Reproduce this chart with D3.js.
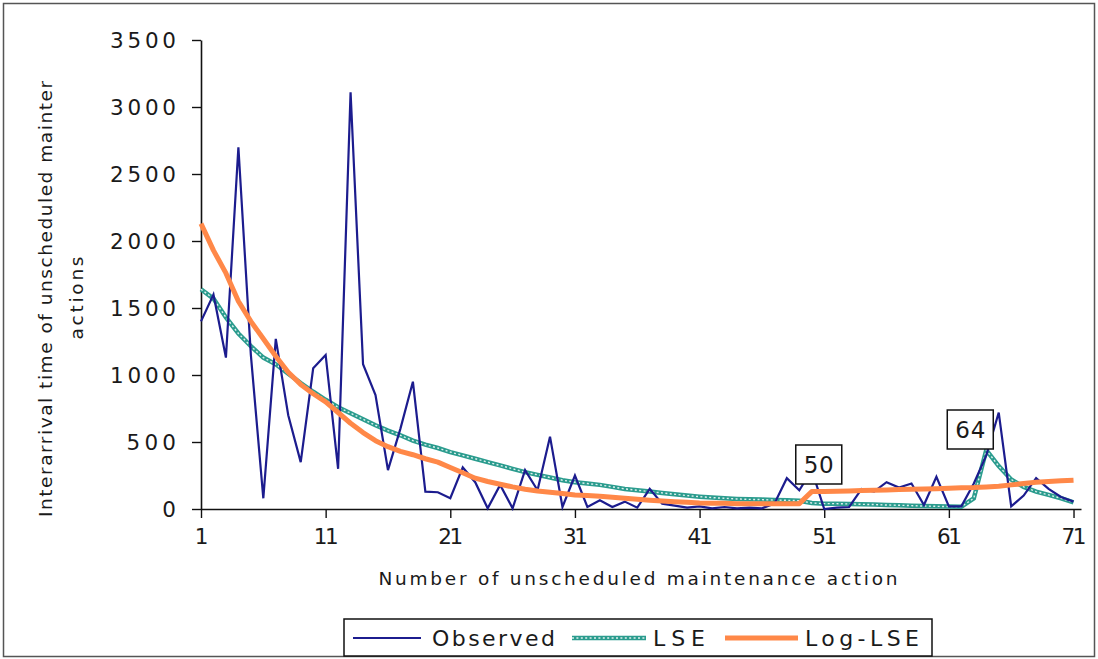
<!DOCTYPE html>
<html>
<head>
<meta charset="utf-8">
<script src="https://cdnjs.cloudflare.com/ajax/libs/d3/7.8.5/d3.min.js"></script>
<style>
body{margin:0;background:#fff;}
svg text{font-family:"DejaVu Sans",Arial,sans-serif;fill:#1a1a1a;}
</style>
</head>
<body>
<div id="chart"></div>
<script>
// action number 1..71
var actions = d3.range(1, 72);
var observed = [1400,1600,1130,2700,1150,80,1270,700,350,1050,
	1150,300,3110,1080,850,290,600,950,130,125,
	80,310,200,5,180,5,290,140,540,15,
	250,15,65,15,55,10,150,40,25,10,
	20,5,15,5,10,5,40,230,140,290,
	0,10,15,150,130,200,160,190,30,240,
	20,20,190,400,720,20,100,230,150,90,55];
var lse = [1640,1570,1430,1310,1215,1130,1080,1010,940,875,
	815,760,715,670,625,585,550,510,480,455,
	425,400,375,350,325,300,275,255,235,215,
	200,190,180,165,150,140,130,120,110,100,
	92,85,80,75,72,70,67,65,62,45,
	40,40,38,35,33,30,28,25,22,20,
	18,17,80,440,320,220,165,130,105,80,50];
var logLse = [2130,1930,1760,1550,1400,1270,1140,1020,930,860,
	800,720,640,570,510,465,430,405,375,350,
	310,270,230,205,185,165,148,135,125,115,
	105,100,95,88,80,72,65,60,55,50,
	45,43,42,40,40,40,40,40,40,130,
	130,132,135,138,140,142,145,148,150,152,
	155,158,160,165,170,180,190,200,205,210,215];
var yTicks = [0,500,1000,1500,2000,2500,3000,3500];
var xTicks = [1,11,21,31,41,51,61,71];
var seriesNames = ["Observed","LSE","Log-LSE"];
var marked = [50,64];

var W = 1098, H = 659;
var navy = "#1c1c8e", teal = "#2b9c8e", orange = "#ff8848";

var svg = d3.select("#chart").append("svg")
	.attr("width", W).attr("height", H);

// outer frame
svg.append("rect")
	.attr("x", 3.5).attr("y", 3.5)
	.attr("width", 1091).attr("height", 653)
	.attr("fill", "#fff").attr("stroke", "#555").attr("stroke-width", 1.5);

var x = d3.scaleLinear().domain([1, 71.6]).range([201, 1081]);
var y = d3.scaleLinear().domain([0, 3500]).range([509, 40]);

// y axis
var gy = svg.append("g").attr("transform", "translate(201,0)")
	.call(d3.axisLeft(y).tickValues(yTicks).tickSize(9).tickSizeOuter(0).tickPadding(0).tickFormat(d3.format("d")));
gy.select(".domain").attr("stroke", "#111").attr("stroke-width", 1.6);
gy.selectAll(".tick line").attr("stroke", "#111").attr("stroke-width", 1.4);
gy.selectAll(".tick text")
	.attr("x", -25).attr("dy", "0.36em")
	.attr("font-size", 21.5)
	.attr("textLength", function(d){ return String(d).length * 16.5; })
	.attr("lengthAdjust", "spacing")
	.style("font-family", "DejaVu Sans");

// x axis
var gx = svg.append("g").attr("transform", "translate(0,509)")
	.call(d3.axisBottom(x).tickValues(xTicks).tickSize(9).tickSizeOuter(0).tickFormat(d3.format("d")));
gx.select(".domain").attr("stroke", "#111").attr("stroke-width", 1.6);
gx.selectAll(".tick line").attr("stroke", "#111").attr("stroke-width", 1.4);
gx.selectAll(".tick text")
	.attr("y", 27).attr("dy", "0.36em")
	.attr("font-size", 21.5)
	.attr("textLength", function(d){ return String(d).length == 1 ? 11 : 25; })
	.attr("lengthAdjust", "spacing")
	.style("font-family", "DejaVu Sans");

// axis titles
svg.append("text")
	.attr("x", 638).attr("y", 585)
	.attr("text-anchor", "middle")
	.attr("font-size", 18.5)
	.attr("textLength", 519).attr("lengthAdjust", "spacing")
	.text("Number of unscheduled maintenance action");
svg.append("text")
	.attr("transform", "translate(52,299) rotate(-90)")
	.attr("text-anchor", "middle")
	.attr("font-size", 18.5)
	.attr("textLength", 436).attr("lengthAdjust", "spacing")
	.text("Interarrival time of unscheduled mainter");
svg.append("text")
	.attr("transform", "translate(83,298) rotate(-90)")
	.attr("text-anchor", "middle")
	.attr("font-size", 18.5)
	.attr("textLength", 83).attr("lengthAdjust", "spacing")
	.text("actions");

function lineOf(arr){
	return d3.line()
		.x(function(d, i){ return x(actions[i]); })
		.y(function(d){ return y(d); })(arr);
}

// LSE - teal chain line
svg.append("path").attr("d", lineOf(lse))
	.attr("fill", "none").attr("stroke", teal).attr("stroke-width", 4.5);
svg.append("path").attr("d", lineOf(lse))
	.attr("fill", "none").attr("stroke", "#fff").attr("stroke-width", 1.4)
	.attr("stroke-dasharray", "2 2.4").attr("opacity", 0.85);

// observed
svg.append("path").attr("d", lineOf(observed))
	.attr("fill", "none").attr("stroke", navy).attr("stroke-width", 2.2)
	.attr("stroke-linejoin", "miter");

// Log-LSE
svg.append("path").attr("d", lineOf(logLse))
	.attr("fill", "none").attr("stroke", orange).attr("stroke-width", 5)
	.attr("stroke-linejoin", "round");

// marked points
var boxOff = {50: {dx: 7, top: 445}, 64: {dx: -16, top: 410}};
marked.forEach(function(m){
	var cx = x(m) + boxOff[m].dx, top = boxOff[m].top;
	svg.append("rect")
		.attr("x", cx - 23).attr("y", top)
		.attr("width", 46).attr("height", 39)
		.attr("fill", "#fff").attr("stroke", "#111").attr("stroke-width", 1.5);
	svg.append("text")
		.attr("x", cx).attr("y", top + 20).attr("dy", "0.36em")
		.attr("text-anchor", "middle")
		.attr("font-size", 23)
		.attr("textLength", 30).attr("lengthAdjust", "spacing")
		.text(m);
});

// legend
svg.append("rect")
	.attr("x", 344).attr("y", 619)
	.attr("width", 588).attr("height", 37)
	.attr("fill", "#fff").attr("stroke", "#111").attr("stroke-width", 1.5);
var leg = [
	{x1: 353, x2: 421, tx: 432, tw: 123},
	{x1: 572, x2: 646, tx: 653, tw: 52},
	{x1: 725, x2: 798, tx: 805, tw: 114}
];
seriesNames.forEach(function(name, i){
	var l = leg[i];
	if(i == 0){
		svg.append("line").attr("x1", l.x1).attr("x2", l.x2).attr("y1", 638).attr("y2", 638)
			.attr("stroke", navy).attr("stroke-width", 2);
	}else if(i == 1){
		svg.append("line").attr("x1", l.x1).attr("x2", l.x2).attr("y1", 638).attr("y2", 638)
			.attr("stroke", teal).attr("stroke-width", 4.5);
		svg.append("line").attr("x1", l.x1).attr("x2", l.x2).attr("y1", 638).attr("y2", 638)
			.attr("stroke", "#fff").attr("stroke-width", 1.4).attr("stroke-dasharray", "2 2.4").attr("opacity", 0.85);
	}else{
		svg.append("line").attr("x1", l.x1).attr("x2", l.x2).attr("y1", 638).attr("y2", 638)
			.attr("stroke", orange).attr("stroke-width", 5);
	}
	svg.append("text")
		.attr("x", l.tx).attr("y", 638).attr("dy", "0.36em")
		.attr("font-size", 22)
		.attr("textLength", l.tw).attr("lengthAdjust", "spacing")
		.text(name);
});
</script>
</body>
</html>
